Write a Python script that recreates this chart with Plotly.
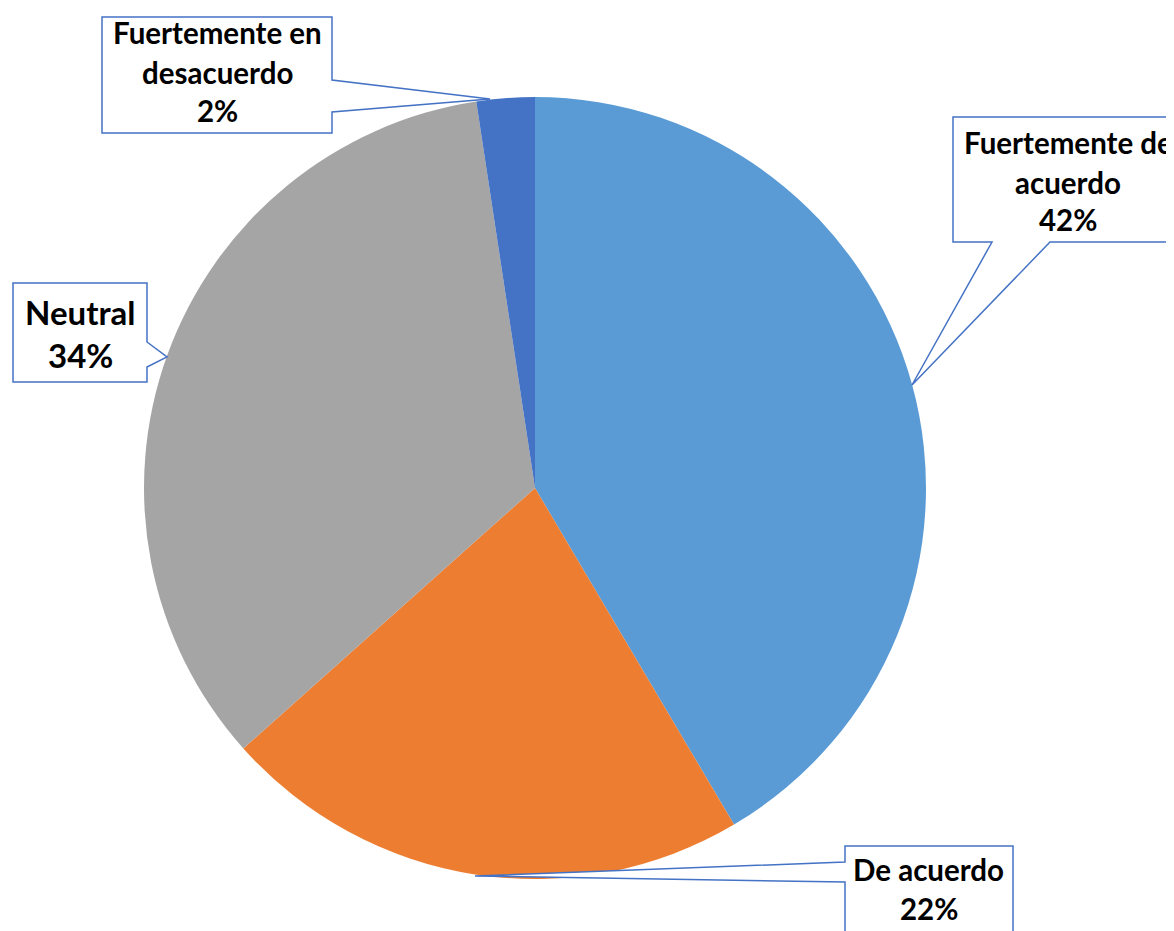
import plotly.graph_objects as go

# ---- data ----
categories = ["Fuertemente de acuerdo", "De acuerdo", "Neutral", "Fuertemente en desacuerdo"]
values = [41.5, 21.9, 34.2, 2.4]
colors = ["#5B9BD5", "#ED7D31", "#A5A5A5", "#4472C4"]

total = sum(values)
percents = [round(v / total * 100) for v in values]

OFF = 8                      # page body margin
W, H = 1174 - OFF, 931 - OFF
CX, CY, R = 535, 488, 391    # pie centre / radius in screen pixels


def X(px):
    return (px - OFF) / W


def Y(py):
    return 1 - (py - OFF) / H


fig = go.Figure(
    go.Pie(
        labels=categories,
        values=values,
        marker=dict(colors=colors, line=dict(width=0)),
        sort=False,
        direction="clockwise",
        rotation=0,
        textinfo="none",
        hoverinfo="label+percent",
        domain=dict(x=[X(CX - R), X(CX + R)], y=[Y(CY + R), Y(CY - R)]),
    )
)

# ---- callout layout (box corners and pointer, screen pixels) ----
callouts = {
    "Fuertemente de acuerdo": dict(
        path=[(953, 117), (1200, 117), (1200, 242), (1050, 242), (912, 385), (992, 242), (953, 242)],
        lines=["Fuertemente de", "acuerdo"], cx=1068, ys=[142, 182, 220], size=29.5),
    "De acuerdo": dict(
        path=[(845, 846), (1013, 846), (1013, 960), (845, 960), (845, 882), (475, 876), (845, 862)],
        lines=["De acuerdo"], cx=929, ys=[869, 908], size=29.5),
    "Neutral": dict(
        path=[(13, 283), (147, 283), (147, 342), (167, 357), (147, 367), (147, 382), (13, 382)],
        lines=["Neutral"], cx=80, ys=[312, 355], size=33),
    "Fuertemente en desacuerdo": dict(
        path=[(102, 17), (332, 17), (332, 80), (490, 99), (332, 112), (332, 133), (102, 133)],
        lines=["Fuertemente en", "desacuerdo"], cx=217, ys=[33, 72, 110], size=29.5),
}

shapes = []
annotations = []
for cat, pct in zip(categories, percents):
    c = callouts[cat]
    pts = c["path"]
    d = "M " + " L ".join(f"{X(x):.5f},{Y(y):.5f}" for x, y in pts) + " Z"
    shapes.append(dict(type="path", xref="paper", yref="paper", path=d,
                       fillcolor="white", line=dict(color="#4472C4", width=1.5)))
    texts = c["lines"] + [f"{pct}%"]
    for t, y in zip(texts, c["ys"]):
        annotations.append(dict(
            text=t, x=X(c["cx"]), y=Y(y), xref="paper", yref="paper",
            xanchor="center", yanchor="middle", showarrow=False,
            font=dict(family="Lato", size=c["size"], color="black", weight="bold"),
        ))

fig.update_layout(
    width=W, height=H,
    margin=dict(l=0, r=0, t=0, b=0),
    paper_bgcolor="white", plot_bgcolor="white",
    showlegend=False,
    shapes=shapes,
    annotations=annotations,
)

fig.write_html("out.html")
